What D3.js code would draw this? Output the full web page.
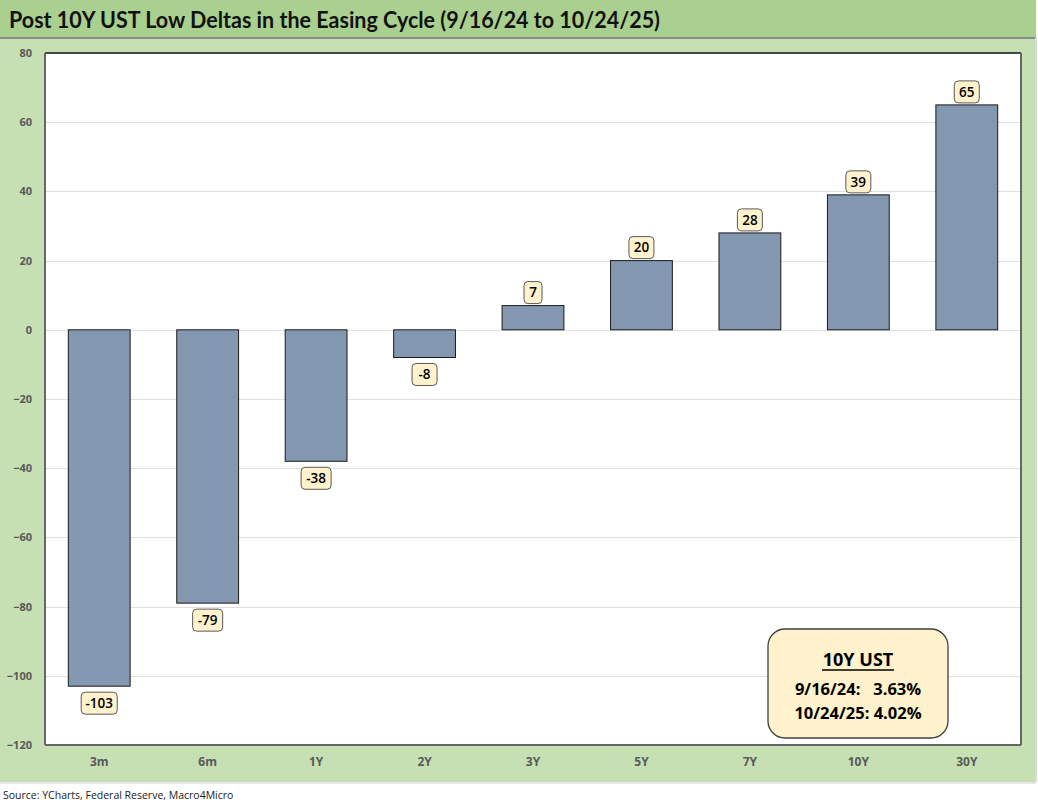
<!DOCTYPE html>
<html><head><meta charset="utf-8">
<script src="https://cdn.jsdelivr.net/npm/d3@7"></script>
<style>body{margin:0;background:#fff}svg{display:block}</style>
</head><body><svg id="c" width="1038" height="808"></svg>
<script>
const categories = ["3m","6m","1Y","2Y","3Y","5Y","7Y","10Y","30Y"];
const deltas = [-103,-79,-38,-8,7,20,28,39,65];
const yTicks = [80,60,40,20,0,-20,-40,-60,-80,-100,-120];
const titleText = "Post 10Y UST Low Deltas in the Easing Cycle (9/16/24 to 10/24/25)";
const boxTitle = "10Y UST";
const boxLines = ["9/16/24:   3.63%","10/24/25: 4.02%"];
const sourceText = "Source: YCharts, Federal Reserve, Macro4Micro";

const svg = d3.select("#c");
const font = "'Open Sans', 'Noto Sans', sans-serif";
// background panels
svg.append("rect").attr("x",0).attr("y",0).attr("width",1036).attr("height",782).attr("fill","#c6e0b4");
svg.append("rect").attr("x",0).attr("y",0).attr("width",1036).attr("height",37).attr("fill","#a9d08e");
svg.append("line").attr("x1",0).attr("x2",1036).attr("y1",38).attr("y2",38).attr("stroke","#8c8c8c").attr("stroke-width",2);
svg.append("line").attr("x1",1036).attr("x2",1036).attr("y1",38).attr("y2",782).attr("stroke","#d9d9d9").attr("stroke-width",2);
svg.append("line").attr("x1",0).attr("x2",1036).attr("y1",783).attr("y2",783).attr("stroke","#e6e6e6").attr("stroke-width",2);

svg.append("text").attr("x",9).attr("y",28).attr("font-family","Lato, 'Open Sans', sans-serif")
  .attr("font-weight","bold").attr("font-size",22).attr("fill","#111")
  .attr("textLength",651).attr("lengthAdjust","spacingAndGlyphs").text(titleText);

const L=45,R=1021,T=53,B=745;
const x = d3.scaleBand().domain(categories).range([L,R]).paddingInner(0.43).paddingOuter(0.215);
const y = d3.scaleLinear().domain([-120,80]).range([B,T]);

svg.append("rect").attr("x",L).attr("y",T).attr("width",R-L).attr("height",B-T).attr("fill","#fff");
// gridlines
svg.append("g").selectAll("line").data(yTicks.filter(d=>d!==80&&d!==-120)).join("line")
  .attr("x1",L).attr("x2",R).attr("y1",d=>Math.round(y(d))+0.5).attr("y2",d=>Math.round(y(d))+0.5)
  .attr("stroke","#e0e0e0").attr("stroke-width",1.2);

// axes
const yAxis = d3.axisLeft(y).tickValues(yTicks).tickSize(0).tickPadding(13);
const gy = svg.append("g").attr("transform",`translate(${L},0)`).call(yAxis);
gy.select(".domain").remove();
gy.selectAll("text").attr("font-family",font).attr("font-weight","bold").attr("font-size",11).attr("fill","#595959");

const xAxis = d3.axisBottom(x).tickSize(0).tickPadding(12);
const gx = svg.append("g").attr("transform",`translate(0,${B})`).call(xAxis);
gx.select(".domain").remove();
gx.selectAll("text").attr("font-family",font).attr("font-weight","bold").attr("font-size",12).attr("fill","#595959");

// plot border
svg.append("line").attr("x1",L).attr("x2",R).attr("y1",T).attr("y2",T).attr("stroke","#111").attr("stroke-width",1.5);
svg.append("line").attr("x1",L).attr("x2",R).attr("y1",B).attr("y2",B).attr("stroke","#666").attr("stroke-width",2);
svg.append("line").attr("x1",L).attr("x2",L).attr("y1",T).attr("y2",B).attr("stroke","#666").attr("stroke-width",2);
svg.append("line").attr("x1",R).attr("x2",R).attr("y1",T).attr("y2",B).attr("stroke","#666").attr("stroke-width",2);

// bars
svg.append("g").selectAll("rect").data(categories).join("rect")
  .attr("x",d=>x(d)).attr("width",x.bandwidth())
  .attr("y",(d,i)=>y(Math.max(0,deltas[i]))).attr("height",(d,i)=>Math.abs(y(deltas[i])-y(0)))
  .attr("fill","#8497b0").attr("stroke","#1a1a1a").attr("stroke-width",1);

// labels
const lg = svg.append("g").selectAll("g").data(categories).join("g")
  .attr("transform",(d,i)=>{
    const cx = x(d)+x.bandwidth()/2;
    const cy = deltas[i]>=0 ? y(deltas[i])-13 : y(deltas[i])+17;
    return `translate(${cx},${cy})`;
  });
lg.each(function(d,i){
  const g=d3.select(this);
  const t=String(deltas[i]);
  const w = t.length<=1?18: t.length===2?25: t.length===3?30:36;
  g.append("rect").attr("x",-w/2).attr("y",-11).attr("width",w).attr("height",22).attr("rx",4)
    .attr("fill","#fff2cc").attr("stroke","#595959").attr("stroke-width",1);
  g.append("text").attr("text-anchor","middle").attr("dy","0.36em").attr("font-family",font)
    .attr("font-weight",600).attr("font-size",13.5).attr("fill","#000").text(t);
});

// info box
const bx=768,by=629,bw=180,bh=109;
svg.append("rect").attr("x",bx).attr("y",by).attr("width",bw).attr("height",bh).attr("rx",17)
  .attr("fill","#fff2cc").attr("stroke","#404040").attr("stroke-width",1.3);
svg.append("text").attr("x",bx+bw/2).attr("y",by+37).attr("text-anchor","middle").attr("font-family",font)
  .attr("font-weight","bold").attr("font-size",18).attr("fill","#000").text(boxTitle);
svg.append("line").attr("x1",bx+54).attr("x2",bx+126).attr("y1",by+41).attr("y2",by+41).attr("stroke","#000").attr("stroke-width",1.5);
boxLines.forEach((s,i)=>{
  svg.append("text").attr("x",bx+bw/2).attr("y",by+66+i*24).attr("text-anchor","middle").attr("font-family",font)
    .attr("font-weight","bold").attr("font-size",16.5).attr("fill","#000").style("white-space","pre").text(s);
});

svg.append("text").attr("x",3).attr("y",799).attr("font-family",font).attr("font-size",10.5).attr("fill","#222").text(sourceText);
</script></body></html>
